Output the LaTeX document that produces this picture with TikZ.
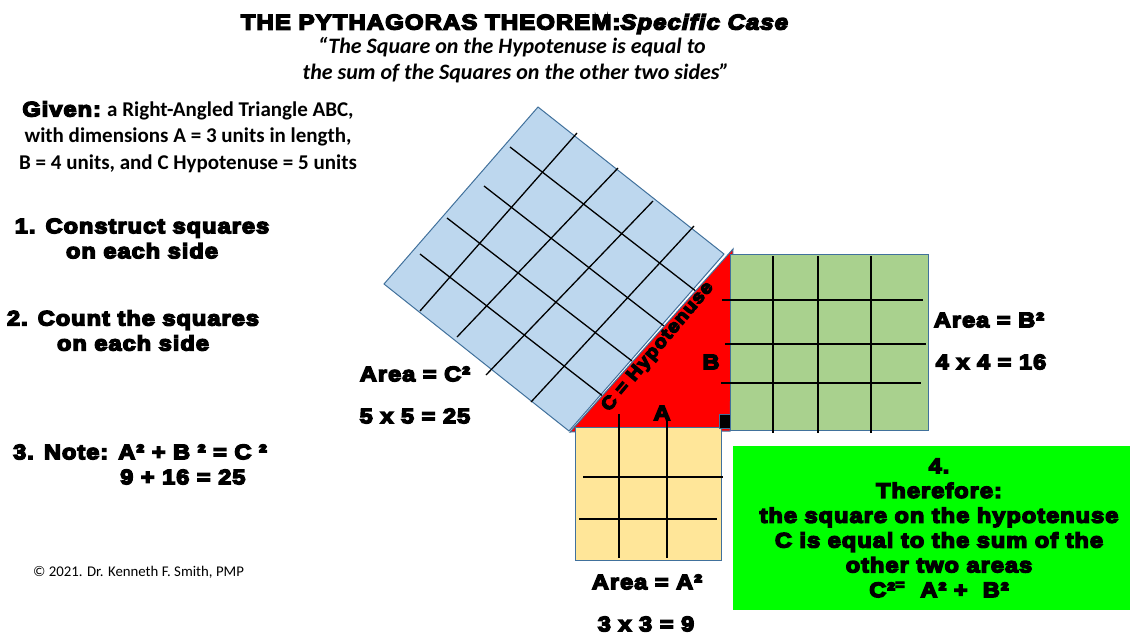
\documentclass[tikz,border=0pt]{standalone}
\usepackage{fontspec}
\setmainfont{Carlito}
\newfontfamily\blk{Liberation Sans}[UprightFont={* Bold},ItalicFont={* Bold Italic},FakeBold=7,FakeStretch=1.12,LetterSpace=5]
\definecolor{edgeblue}{HTML}{41719C}
\definecolor{sqblue}{HTML}{BDD7EE}
\definecolor{sqgreen}{HTML}{A9D18E}
\definecolor{sqyellow}{HTML}{FFE699}
\definecolor{boxgreen}{HTML}{00FF00}
\begin{document}
\begin{tikzpicture}[x=1pt,y=-1pt,
  sqr/.style={draw=edgeblue, line width=1pt},
  gl/.style={line width=1.3pt, black},
  blkt/.style={font=\blk\fontsize{21}{25}\selectfont, inner sep=0pt, align=center},
  calt/.style={font=\bfseries\fontsize{21}{26.5}\selectfont, inner sep=0pt, align=center}]
\useasboundingbox (0,0) rectangle (1130,635);
\fill[white] (0,0) rectangle (1130,635);
% hypotenuse square
\filldraw[sqr, fill=sqblue] (384,284) -- (538,107) -- (724,254) -- (569,431) -- cycle;
\draw[gl] (420,311) -- (577,133);
\draw[gl] (457,337) -- (618,168);
\draw[gl] (486,375) -- (653,201);
\draw[gl] (531,402) -- (694,226);
\draw[gl] (510,147) -- (697,292);
\draw[gl] (484,186) -- (664,326);
\draw[gl] (447,218) -- (632,361);
\draw[gl] (420,254) -- (604,397);
% triangle
\filldraw[fill=red, draw=edgeblue, line width=1pt] (570,432) -- (733,249) -- (730,431) -- cycle;
% B square
\filldraw[sqr, fill=sqgreen] (730,254) rectangle (928,430);
\draw[gl] (773,256) -- (773,433);
\draw[gl] (818,256) -- (818,433);
\draw[gl] (871,256) -- (871,433);
\draw[gl] (722,300) -- (923,300);
\draw[gl] (725,344) -- (926,344);
\draw[gl] (721,383) -- (921,383);
% A square
\filldraw[sqr, fill=sqyellow] (575,427) rectangle (721,560);
\draw[gl] (619,414) -- (619,558);
\draw[gl] (667,417) -- (667,558);
\draw[gl] (583,477) -- (723,477);
\draw[gl] (579,519) -- (717,519);
% right angle mark
\filldraw[fill=black, draw=edgeblue, line width=0.8pt] (719,414) rectangle (730,428);
% labels on triangle
\node[blkt] (lblB) at (711,362) {B};
\node[blkt] (lblA) at (662,413) {A};
\node[blkt, font=\blk\fontsize{18}{20}\selectfont, rotate=50] (lblC) at (658,347) {C = Hypotenuse};
% title
\node[inner sep=0pt, font=\blk\fontsize{21.4}{25}\selectfont] (title) at (515,24) {THE PYTHAGORAS THEOREM:\textit{Specific Case}};
\node[calt, font=\bfseries\itshape\fontsize{22}{26}\selectfont] (sub1) at (512,47) {“The Square on the Hypotenuse is equal to};
\node[calt, font=\bfseries\itshape\fontsize{22}{26}\selectfont] (sub2) at (516,73) {the sum of the Squares on the other two sides”};
% left texts
\node[calt] (given) at (188,137) {{\blk Given:} a Right-Angled Triangle ABC,\\with dimensions A = 3 units in length,\\B = 4 units, and C Hypotenuse = 5 units};
\node[blkt] (step1) at (142,238.5) {1. Construct squares\\on each side};
\node[blkt] (step2) at (133,330.5) {2. Count the squares\\on each side};
\node[blkt, anchor=west] (step3a) at (13,452) {3. Note: A² + B ² = C ²};
\node[blkt, anchor=west] (step3b) at (120,477) {9 + 16 = 25};
\node[inner sep=0pt, anchor=west, font=\fontsize{14.8}{17}\selectfont] (copy) at (33,572) {© 2021. Dr. Kenneth F. Smith, PMP};
% area labels
\node[blkt] (areaC) at (415,374) {Area = C²};
\node[blkt] (calcC) at (415,416) {5 x 5 = 25};
\node[blkt] (areaB) at (989,320) {Area = B²};
\node[blkt] (calcB) at (991,362) {4 x 4 = 16};
\node[blkt] (areaA) at (647,582) {Area = A²};
\node[blkt] (calcA) at (646,624) {3 x 3 = 9};
% conclusion box
\fill[boxgreen] (733,446) rectangle (1130,610);
\node[blkt, font=\blk\fontsize{21}{24.8}\selectfont] (concl) at (939,528) {4.\\Therefore:\\the square on the hypotenuse\\C is equal to the sum of the\\other two areas\\C²\textsuperscript{=}\ \ A² +\ \ B²};
\end{tikzpicture}
\end{document}
